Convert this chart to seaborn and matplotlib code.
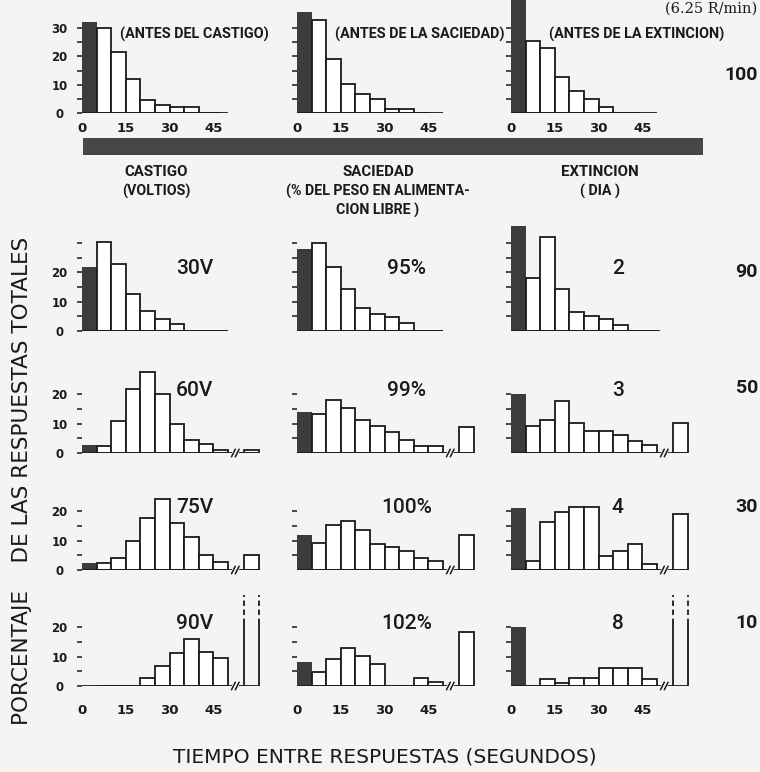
import numpy as np
import matplotlib
matplotlib.use("Agg")
import matplotlib.pyplot as plt
from matplotlib.patches import Rectangle
import seaborn as sns

# ---------------------------------------------------------------- data
# inter-response time bins (seconds); first bin (0-5 s) is shaded
bin_edges = [0, 5, 10, 15, 20, 25, 30, 35, 40, 45, 50]
extra_edges = [55.5, 60.5]          # responses beyond the axis break
OFF = np.inf                         # bar runs off the top of the panel

conditions = ["CASTIGO", "SACIEDAD", "EXTINCION"]
condition_units = ["(VOLTIOS)", "(% DEL PESO EN ALIMENTA-\nCION LIBRE )", "( DIA )"]
baseline_titles = ["(ANTES DEL CASTIGO)", "(ANTES DE LA SACIEDAD)", "(ANTES DE LA EXTINCION)"]

castigo_levels = ["30V", "60V", "75V", "90V"]
castigo_antes = [32, 30, 21.5, 12, 4.6, 2.8, 2, 2, 0, 0]
castigo_30v = [22, 30.5, 23, 12.5, 6.8, 4, 2.4, 0, 0, 0]
castigo_60v = [2.7, 2.5, 10.8, 22, 27.5, 20, 9.8, 4.4, 3, 1]
castigo_75v = [2.4, 2.4, 4, 10, 17.6, 24.4, 16, 11.2, 5, 2.7]
castigo_90v = [0, 0, 0, 0, 2.7, 6.9, 11.4, 15.9, 11.7, 9.7]
castigo_extra = [0, 0, 1, 5, OFF]

saciedad_levels = ["95%", "99%", "100%", "102%"]
saciedad_antes = [35.7, 32.8, 19, 10.2, 6.6, 4.9, 1.4, 1.4, 0, 0]
saciedad_95 = [28, 30, 22, 14.5, 7.9, 5.8, 4.7, 2.7, 0, 0]
saciedad_99 = [13.9, 13.3, 18, 15.2, 11.2, 9.2, 7.1, 4.4, 2.4, 2.4]
saciedad_100 = [11.9, 9.2, 15.3, 16.6, 13.6, 8.8, 7.8, 6.4, 4.0, 3.0]
saciedad_102 = [8.1, 4.7, 9.2, 12.9, 10.2, 7.5, 0, 0, 2.7, 1.4]
saciedad_extra = [0, 0, 8.8, 11.9, 18.3]

extincion_levels = ["2", "3", "4", "8"]
extincion_antes = [42, 25.4, 23, 12.8, 7.9, 4.9, 2, 0, 0, 0]
extincion_2 = [38.6, 18, 32, 14.2, 6.5, 5.1, 4, 2, 0, 0]
extincion_3 = [20, 9.2, 11.2, 17.6, 10.2, 7.5, 7.5, 6.1, 4.1, 2.7]
extincion_4 = [21, 3, 16.3, 19.7, 21.4, 21.4, 4.7, 6.4, 8.8, 2]
extincion_8 = [20, 0, 2.4, 1, 2.7, 2.7, 6.1, 6.1, 6.1, 2.4]
extincion_extra = [0, 0, 10.2, 19, OFF]

rate_labels = ["100", "90", "50", "30", "10"]
x_tick_values = [0, 15, 30, 45]

columns = [
    (["", *castigo_levels], [castigo_antes, castigo_30v, castigo_60v, castigo_75v, castigo_90v], castigo_extra),
    (["", *saciedad_levels], [saciedad_antes, saciedad_95, saciedad_99, saciedad_100, saciedad_102], saciedad_extra),
    (["", *extincion_levels], [extincion_antes, extincion_2, extincion_3, extincion_4, extincion_8], extincion_extra),
]

# ---------------------------------------------------------------- layout
W, H = 760, 772
PAPER = "#f4f4f2"
DARK = "#3c3c3c"
INK = "#1a1a1a"

sns.set_theme(style="white")
plt.rcParams["font.family"] = ["DejaVu Sans"]

fig = plt.figure(figsize=(W / 100, H / 100), dpi=100, facecolor=PAPER)

def fx(px):
    return px / W

def fy(py):
    return 1 - py / H

col_x0 = [82, 297, 511]                    # pixel of 0 s
row_base = [113, 331, 453, 570, 686]        # pixel of 0 %
row_yscale = [2.83, 2.93, 2.93, 2.93, 2.93] # pixels per percent
row_ytop = [44, 36, 36, 36, 36]
xscale = 2.92                               # pixels per second
xspan = 62
row_ticks = [[5, 10, 15, 20, 25, 30], [5, 10, 15, 20, 25, 30],
             [5, 10, 15, 20], [5, 10, 15, 20], [5, 10, 15, 20]]
row_major = [[0, 10, 20, 30], [0, 10, 20], [0, 10, 20], [0, 10, 20], [0, 10, 20]]
baseline_end = [[47.5, 45.5, 44], [50, 50, 51]]
level_x = [38.5, 37.5, 36.5]

centers = [(a + b) / 2 for a, b in zip(bin_edges[:-1], bin_edges[1:])]

for c, (labels, series, extras) in enumerate(columns):
    for r, values in enumerate(series):
        ax = fig.add_axes([fx(col_x0[c]), fy(row_base[r]),
                           fx(xspan * xscale), row_ytop[r] * row_yscale[r] / H])
        ax.set_facecolor("none")
        for s in ax.spines.values():
            s.set_visible(False)

        # shaded first bin
        sns.histplot(x=centers[:1], weights=values[:1], bins=bin_edges[:2],
                     color=DARK, edgecolor=DARK, linewidth=0, alpha=1, ax=ax)
        # remaining bins
        sns.histplot(x=centers[1:], weights=values[1:], bins=bin_edges[1:],
                     color="white", edgecolor=INK, linewidth=1.3, alpha=1, ax=ax)

        extra = extras[r]
        if r < 2:
            ax.hlines(0, 0, baseline_end[r][c], color=INK, lw=1.3)
        else:
            ax.hlines(0, 0, bin_edges[-1] + 1.5, color=INK, lw=1.3)
            ax.hlines(0, bin_edges[-1] + 3.6, extra_edges[1], color=INK, lw=1.3)
            bx = bin_edges[-1] + 1.2
            for dx in (0, 1.3):
                ax.plot([bx + dx, bx + dx + 1.3], [-1.3, 1.3], color=INK, lw=1.1,
                        clip_on=False)
            if np.isfinite(extra):
                sns.histplot(x=[np.mean(extra_edges)], weights=[extra], bins=extra_edges,
                             color="white", edgecolor=INK, linewidth=1.3, alpha=1, ax=ax)
            else:
                ax.vlines(extra_edges, 0, 21, color=INK, lw=1.3)
                ax.vlines(extra_edges, 21, 31, color=INK, lw=1.3,
                          linestyles=(0, (3, 2)))

        ax.set_xlim(0, xspan)
        ax.set_ylim(0, row_ytop[r])
        ax.set_xlabel("")
        ax.set_ylabel("")

        # y ticks
        ax.set_yticks(row_ticks[r], minor=True)
        ax.set_yticks(row_major[r] if c == 0 else [])
        ax.tick_params(axis="y", which="both", left=True, length=3.6, width=1.1,
                       color=INK, direction="out", pad=12.5,
                       labelsize=8.5, labelcolor=INK)
        if c == 0:
            ax.set_yticklabels([str(v) for v in row_major[r]], fontweight="bold",
                               ha="center")
        # x ticks
        if r in (0, 4):
            ax.set_xticks(x_tick_values)
            ax.set_xticklabels([str(v) for v in x_tick_values], fontweight="bold")
            ax.tick_params(axis="x", length=0, labelsize=9.5, labelcolor=INK,
                           pad=6.5 if r == 0 else 13)
        else:
            ax.set_xticks([])

        if r == 0:
            ax.text(13, 27.6, baseline_titles[c], ha="left", va="center",
                    family="Roboto", fontweight="bold", fontsize=10.4, color=INK)
        else:
            ax.text(level_x[c], 21.3, labels[r], ha="center", va="center",
                    family="Roboto", fontweight="medium", fontsize=15, color=INK)

# condition header bar and labels
fig.add_artist(Rectangle((fx(83), fy(155)), fx(703 - 83), (155 - 138) / H,
                         transform=fig.transFigure, facecolor="#474747",
                         edgecolor="none"))
cond_x = [156, 378, 600]
for name, unit, x in zip(conditions, condition_units, cond_x):
    fig.text(fx(x), fy(172), name, ha="center", va="center",
             family="Roboto", fontweight="bold", fontsize=10.8, color=INK)
    fig.text(fx(x), fy(184), unit, ha="center", va="top", linespacing=1.3,
             family="Roboto", fontweight="bold", fontsize=10.3, color=INK)

# reinforcement rate labels on the right
rate_y = [75, 272, 388, 507, 623]
for lab, y in zip(rate_labels, rate_y):
    fig.text(fx(758), fy(y), lab, ha="right", va="center",
             family="Roboto", fontweight="bold", fontsize=14, color=INK)
fig.text(fx(757), fy(13), "(6.25 R/min)", ha="right", va="baseline",
         family="DejaVu Serif", fontsize=10.5, color=INK)

fig.text(fx(22), fy(481), "PORCENTAJE    DE LAS RESPUESTAS TOTALES", rotation=90,
         ha="center", va="center", fontsize=15.5, color=INK)
fig.text(fx(385), fy(757), "TIEMPO ENTRE RESPUESTAS (SEGUNDOS)",
         ha="center", va="center", fontsize=14.5, color=INK)

fig.savefig("out.png", dpi=100, facecolor=PAPER)
